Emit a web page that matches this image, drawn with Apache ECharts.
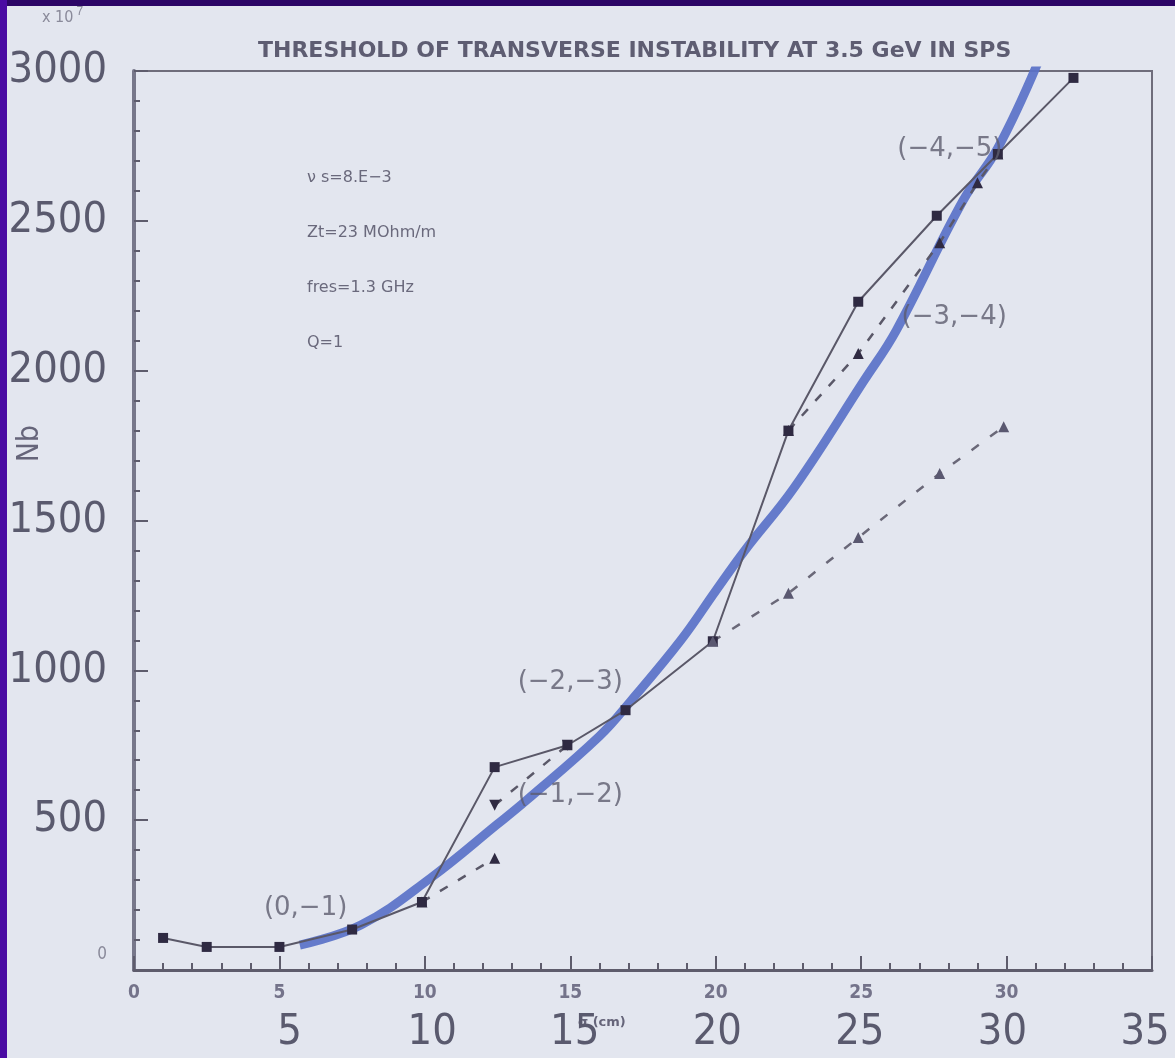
<!DOCTYPE html>
<html>
<head>
<meta charset="utf-8">
<script src="https://cdn.jsdelivr.net/npm/echarts@6/dist/echarts.min.js"></script>
<style>
html,body{margin:0;padding:0;background:#e3e6ef;}
#c{width:1175px;height:1058px;}
</style>
</head>
<body>
<div id="c"></div>
<script>
// ---- data (sigma in cm, Nb in units of 1e7) ----
var titleText = 'THRESHOLD OF TRANSVERSE INSTABILITY AT 3.5 GeV IN SPS';
var paramLines = ['\u03bd s=8.E\u22123', 'Zt=23 MOhm/m', 'fres=1.3 GHz', 'Q=1'];
var solidBranch = [[1,107],[2.5,77],[5,77],[7.5,135],[9.9,227],[12.4,677],[14.9,750],[16.9,867],[19.9,1097],[22.5,1800],[24.9,2230],[27.6,2517],[29.7,2723],[32.3,2977]];
var dashedUpper = [[22.5,1800],[24.9,2057],[27.7,2427],[29.0,2627],[29.7,2723]];
var dashedLower = [[19.9,1097],[22.5,1257],[24.9,1443],[27.7,1657],[29.9,1813]];
var dashedMode01 = [[9.9,227],[12.4,373]];
var dashedMode12 = [[12.4,550],[14.9,750]];
var blueFit = [[5.7,83],[7.8,150],[10.2,307],[12.5,487],[13.5,567],[16,780],[17.1,900],[18.8,1100],[20,1265],[21,1400],[22.7,1610],[25.1,1967],[26.2,2133],[28.5,2567],[29.7,2743],[31.1,3033]];
var modeLabels = [
  {name:'(0,\u22121)', value:[5.9,207]},
  {name:'(\u22121,\u22122)', value:[15.0,583]},
  {name:'(\u22122,\u22123)', value:[15.0,960]},
  {name:'(\u22123,\u22124)', value:[28.2,2177]},
  {name:'(\u22124,\u22125)', value:[28.05,2740]}
];
var xMin = 0, xMax = 35, xStep = 5;
var yMin = 0, yMax = 3000, yStep = 500;

var lineGrey = '#5a5868';
var markDark = '#2f2a42';
var textGrey = '#5a5a6e';
var bigFont = '"DejaVu Sans Condensed","Liberation Sans",sans-serif';
var smallFont = '"DejaVu Sans Condensed","Liberation Sans",sans-serif';
var wideFont = '"DejaVu Sans","Liberation Sans",sans-serif';

var chart = echarts.init(document.getElementById('c'));
chart.setOption({
  backgroundColor: '#e3e6ef',
  animation: false,
  grid: [
    {left:134, right:23, top:71, bottom:88, show:true, borderColor:'#6f6d7b', borderWidth:2, backgroundColor:'transparent'},
    {left:147, right:30, top:71, bottom:88, show:false}
  ],
  xAxis: [
    {gridIndex:0, type:'value', min:xMin, max:xMax, interval:xStep,
     axisLine:{show:true, lineStyle:{color:'#5e5c6c', width:3}},
     axisTick:{show:true, inside:true, length:14, lineStyle:{color:'#5e5c6c', width:2}},
     minorTick:{show:true, splitNumber:5, length:7, lineStyle:{color:'#5e5c6c', width:2}},
     splitLine:{show:false},
     axisLabel:{show:true, margin:14, fontSize:19, fontWeight:'bold', color:'#74738a', fontFamily:smallFont,
       formatter:function(v){return v>=35?'':String(v);}}},
    {gridIndex:1, type:'value', min:xMin, max:xMax, interval:xStep,
     axisLine:{show:false}, axisTick:{show:false}, splitLine:{show:false},
     axisLabel:{show:true, margin:41, fontSize:43, color:textGrey, fontFamily:bigFont,
       formatter:function(v){return v===0?'':String(v);}}}
  ],
  yAxis: [
    {gridIndex:0, type:'value', min:yMin, max:yMax, interval:yStep,
     axisLine:{show:true, lineStyle:{color:'#77778a', width:4}},
     axisTick:{show:true, inside:true, length:14, lineStyle:{color:'#5e5c6c', width:2}},
     minorTick:{show:true, splitNumber:5, length:6, lineStyle:{color:'#5e5c6c', width:2}},
     splitLine:{show:false},
     axisLabel:{show:true, margin:27,
       formatter:function(v){return v===0?'{s|0}':'{b|'+v+'}';},
       rich:{
         s:{fontSize:17, color:'#8a8a9a', fontFamily:smallFont, padding:[0,0,30,0]},
         b:{fontSize:43, color:textGrey, fontFamily:bigFont}
       }}},
    {gridIndex:1, type:'value', min:yMin, max:yMax, show:false}
  ],
  graphic: [
    {type:'rect', left:0, top:0, shape:{width:1175, height:6}, style:{fill:'#2c0566'}, silent:true},
    {type:'rect', left:0, top:0, shape:{width:7, height:1058}, style:{fill:'#4a0ba3'}, silent:true},
    {type:'text', left:258, top:40, style:{text:titleText, font:'bold 22px '+wideFont, fill:'#5e5d72'}},
    {type:'text', left:42, top:6, style:{text:'x 10{sup|7}', font:'16px '+smallFont, fill:'#8a8a9a', rich:{sup:{fontSize:12, padding:[0,0,12,3], fill:'#8a8a9a'}}}},
    {type:'text', left:15, top:425, rotation:Math.PI/2, style:{text:'Nb', font:'30px '+smallFont, fill:'#66657a'}},
    {type:'text', left:578, top:1016, style:{text:'\u03c3 (cm)', font:'bold 13px '+wideFont, fill:'#66657a'}},
    {type:'text', left:307, top:170, style:{text:paramLines[0], font:'16px '+wideFont, fill:'#6a697c'}},
    {type:'text', left:307, top:225, style:{text:paramLines[1], font:'16px '+wideFont, fill:'#6a697c'}},
    {type:'text', left:307, top:280, style:{text:paramLines[2], font:'16px '+wideFont, fill:'#6a697c'}},
    {type:'text', left:307, top:335, style:{text:paramLines[3], font:'16px '+wideFont, fill:'#6a697c'}}
  ],
  series: [
    {type:'line', xAxisIndex:0, yAxisIndex:0, data:blueFit, smooth:0.4, showSymbol:false, z:3,
     lineStyle:{color:'#5a72c8', width:9, opacity:0.92}},
    {type:'line', xAxisIndex:0, yAxisIndex:0, data:solidBranch, symbol:'rect', symbolSize:10, z:4,
     lineStyle:{color:lineGrey, width:2}, itemStyle:{color:markDark}},
    {type:'line', xAxisIndex:0, yAxisIndex:0, data:dashedUpper, symbol:'triangle', symbolSize:11, z:4,
     lineStyle:{color:lineGrey, width:2.5, type:[9,11]}, itemStyle:{color:markDark}},
    {type:'line', xAxisIndex:0, yAxisIndex:0, data:dashedLower, symbol:'triangle', symbolSize:11, z:4,
     lineStyle:{color:'#6a6878', width:2.5, type:[9,14]}, itemStyle:{color:'#5a5870'}},
    {type:'line', xAxisIndex:0, yAxisIndex:0, data:dashedMode01, symbol:'triangle', symbolSize:11, z:4,
     lineStyle:{color:lineGrey, width:2.5, type:[9,12]}, itemStyle:{color:markDark}},
    {type:'line', xAxisIndex:0, yAxisIndex:0, data:dashedMode12, symbol:'triangle', symbolRotate:180, symbolSize:11, z:4,
     lineStyle:{color:lineGrey, width:2.5, type:[9,12]}, itemStyle:{color:markDark}},
    {type:'scatter', xAxisIndex:0, yAxisIndex:0, data:modeLabels, symbolSize:0, z:5,
     label:{show:true, position:'inside', formatter:'{b}', fontSize:26, color:'#5d5c6e', fontFamily:wideFont}}
  ]
});
</script>
</body>
</html>
